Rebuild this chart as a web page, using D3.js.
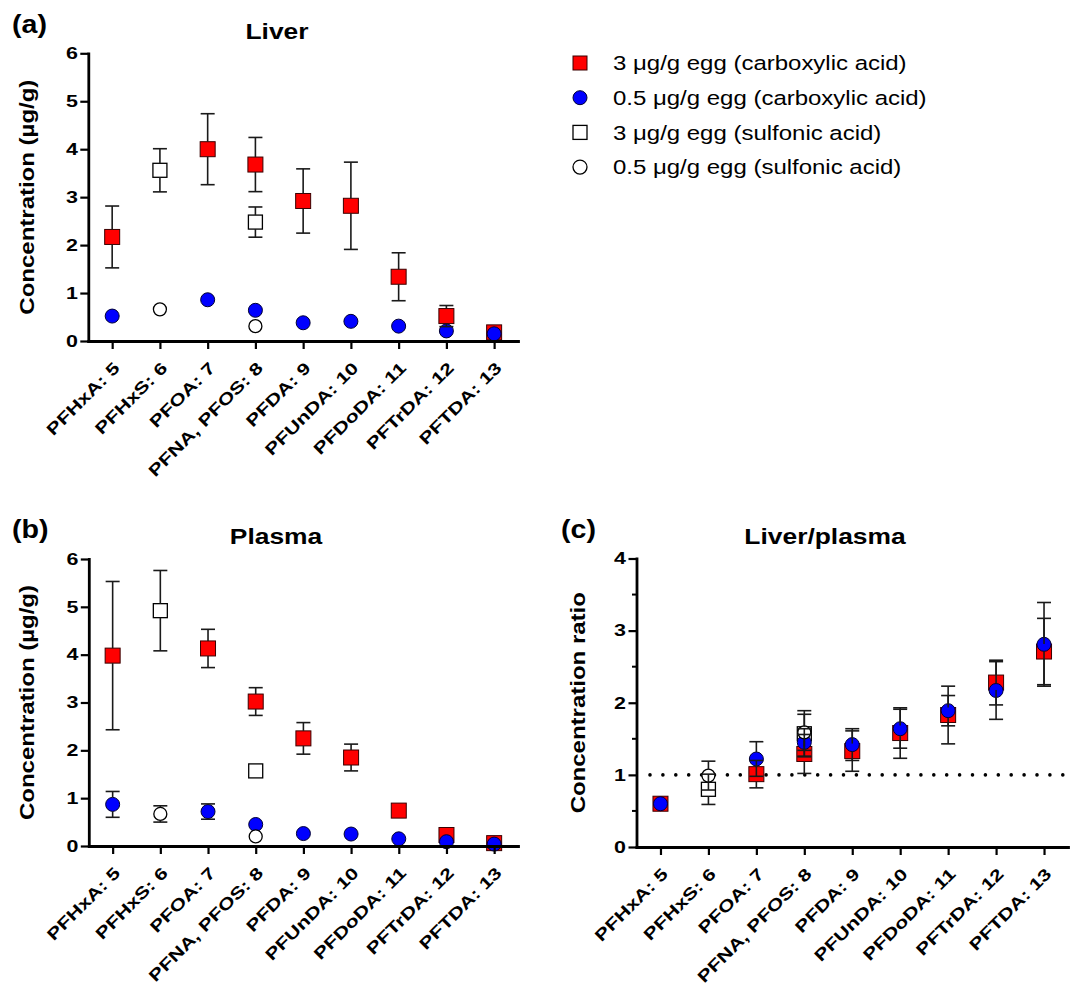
<!DOCTYPE html>
<html>
<head>
<meta charset="utf-8">
<script src="https://cdn.jsdelivr.net/npm/d3@7"></script>
<style>
  body { margin: 0; background: #fff; }
  svg { font-family: "Liberation Sans", Arial, sans-serif; }
  .axis text { font-size: 16.5px; font-weight: bold; fill: #000; }
  .axis path, .axis line { stroke: #000; }
</style>
</head>
<body>
<div id="chart"></div>
<script>
// categories along the x axis (shared by all three panels)
var categories = ["PFHxA: 5", "PFHxS: 6", "PFOA: 7", "PFNA, PFOS: 8", "PFDA: 9",
  "PFUnDA: 10", "PFDoDA: 11", "PFTrDA: 12", "PFTDA: 13"];

var legendLabels = ["3 \u03bcg/g egg (carboxylic acid)", "0.5 \u03bcg/g egg (carboxylic acid)",
  "3 \u03bcg/g egg (sulfonic acid)", "0.5 \u03bcg/g egg (sulfonic acid)"];

// (a) liver, mean and SD per category (null = not measured / bar hidden)
var liverHighCarb   = [2.17, null, 4.00, 3.68, 2.92, 2.82, 1.34, 0.52, 0.18];
var liverHighCarbSd = [0.645, null, 0.74, 0.565, 0.67, 0.91, 0.50, 0.22, null];
var liverLowCarb    = [0.52, null, 0.86, 0.64, 0.38, 0.41, 0.31, 0.21, 0.15];
var liverLowCarbSd  = [null, null, null, null, null, null, null, null, null];
var liverHighSulf   = [null, 3.56, null, 2.48, null, null, null, null, null];
var liverHighSulfSd = [null, 0.45, null, 0.315, null, null, null, null, null];
var liverLowSulf    = [null, 0.66, null, 0.31, null, null, null, null, null];
var liverLowSulfSd  = [null, null, null, null, null, null, null, null, null];

// (b) plasma
var plasmaHighCarb   = [3.98, null, 4.13, 3.02, 2.25, 1.85, 0.74, 0.23, 0.06];
var plasmaHighCarbSd = [1.55, null, 0.40, 0.29, 0.33, 0.28, null, null, null];
var plasmaLowCarb    = [0.87, null, 0.72, 0.45, 0.26, 0.25, 0.15, 0.09, 0.04];
var plasmaLowCarbSd  = [0.27, null, 0.16, null, null, null, null, null, null];
var plasmaHighSulf   = [null, 4.92, null, 1.57, null, null, null, null, null];
var plasmaHighSulfSd = [null, 0.84, null, null, null, null, null, null, null];
var plasmaLowSulf    = [null, 0.67, null, 0.20, null, null, null, null, null];
var plasmaLowSulfSd  = [null, 0.17, null, null, null, null, null, null, null];

// (c) liver/plasma ratio
var ratioHighCarb   = [0.60, null, 1.01, 1.29, 1.33, 1.58, 1.83, 2.28, 2.71];
var ratioHighCarbSd = [null, null, 0.19, 0.27, 0.28, 0.35, 0.40, 0.31, 0.46];
var ratioLowCarb    = [0.60, null, 1.22, 1.45, 1.42, 1.64, 1.89, 2.17, 2.81];
var ratioLowCarbSd  = [null, null, 0.24, 0.19, 0.22, 0.27, 0.21, 0.40, 0.58];
var ratioHighSulf   = [null, 0.80, null, 1.57, null, null, null, null, null];
var ratioHighSulfSd = [null, 0.21, null, 0.32, null, null, null, null, null];
var ratioLowSulf    = [null, 0.99, null, 1.59, null, null, null, null, null];
var ratioLowSulfSd  = [null, 0.20, null, 0.25, null, null, null, null, null];

var liverTicks = [0, 1, 2, 3, 4, 5, 6];
var ratioTicks = [0, 1, 2, 3, 4];
var ratioMinorTicks = [0.5, 1.5, 2.5, 3.5];
var refLine = 1;

// the figure's lettering is wider than Arial, so text gets stretched along its run
var wide = 1.2;
var tickWide = 1.3;

var svg = d3.select("#chart").append("svg")
  .attr("width", 1073)
  .attr("height", 986);

// marker styles for the four series
var styles = [
  { shape: "square", size: 15, fill: "#ff0000", stroke: "#3a0000", sw: 1 },
  { shape: "square", size: 14, fill: "#ffffff", stroke: "#000", sw: 1.3 },
  { shape: "circle", size: 14, fill: "#0000ff", stroke: "#000033", sw: 1 },
  { shape: "circle", size: 13, fill: "#ffffff", stroke: "#000", sw: 1.3 }
];

function drawMarker(g, st, cx, cy) {
  if (st.shape == "square") {
    g.append("rect")
      .attr("x", cx - st.size / 2).attr("y", cy - st.size / 2)
      .attr("width", st.size).attr("height", st.size)
      .attr("fill", st.fill).attr("stroke", st.stroke).attr("stroke-width", st.sw);
  } else {
    g.append("circle")
      .attr("cx", cx).attr("cy", cy).attr("r", st.size / 2)
      .attr("fill", st.fill).attr("stroke", st.stroke).attr("stroke-width", st.sw);
  }
}

function drawPanel(p) {
  var x = d3.scalePoint().domain(categories).range(p.xRange).padding(0.5);
  var y = d3.scaleLinear().domain([0, p.yMax]).range(p.yRange);
  var g = svg.append("g");

  // reference line
  if (p.refLine != null) {
    g.append("line")
      .attr("x1", p.refX[0]).attr("x2", p.refX[1])
      .attr("y1", y(p.refLine)).attr("y2", y(p.refLine))
      .attr("stroke", "#000").attr("stroke-width", 3.6)
      .attr("stroke-linecap", "round")
      .attr("stroke-dasharray", "0 12.9");
  }

  // markers (series order as in legend, red first)
  var order = [0, 1, 2, 3];
  order.forEach(function(s) {
    p.series[s].forEach(function(v, i) {
      if (v == null) return;
      drawMarker(g, styles[s], x(categories[i]), y(v));
    });
  });

  // error bars on top, drawn outside of their own marker
  order.forEach(function(s) {
    var half = styles[s].size / 2;
    p.series[s].forEach(function(v, i) {
      var sd = p.sds[s][i];
      if (v == null || sd == null) return;
      var cx = x(categories[i]), cy = y(v);
      var top = y(v + sd), bot = y(v - sd);
      var eb = g.append("g").attr("stroke", "#1a1a1a").attr("stroke-width", 1.6);
      if (top < cy - half) {
        eb.append("line").attr("x1", cx).attr("x2", cx).attr("y1", cy - half).attr("y2", top);
        eb.append("line").attr("x1", cx - 7).attr("x2", cx + 7).attr("y1", top).attr("y2", top);
      }
      if (bot > cy + half) {
        eb.append("line").attr("x1", cx).attr("x2", cx).attr("y1", cy + half).attr("y2", bot);
        eb.append("line").attr("x1", cx - 7).attr("x2", cx + 7).attr("y1", bot).attr("y2", bot);
      }
    });
  });

  // y axis
  var yAxis = g.append("g")
    .attr("class", "axis")
    .attr("transform", `translate(${p.xRange[0]},0)`)
    .call(d3.axisLeft(y).tickValues(p.ticks).tickFormat(d3.format("d"))
      .tickSize(8).tickSizeOuter(0));
  yAxis.select(".domain").attr("stroke-width", 2.8).attr("stroke-linecap", "square");
  yAxis.selectAll(".tick line").attr("stroke-width", 2.2);
  yAxis.selectAll(".tick text")
    .attr("x", -10.5 / tickWide)
    .attr("transform", `scale(${tickWide},1)`);

  if (p.minorTicks) {
    g.selectAll(".minor")
      .data(p.minorTicks)
      .enter()
      .append("line")
      .attr("x1", p.xRange[0] - 4.5).attr("x2", p.xRange[0])
      .attr("y1", d => y(d)).attr("y2", d => y(d))
      .attr("stroke", "#000").attr("stroke-width", 2);
  }

  // x axis
  var xAxis = g.append("g")
    .attr("class", "axis")
    .attr("transform", `translate(0,${p.yRange[0]})`)
    .call(d3.axisBottom(x).tickSize(8).tickSizeOuter(0));
  xAxis.select(".domain").attr("stroke-width", 2.8).attr("stroke-linecap", "square");
  xAxis.selectAll(".tick line").attr("stroke-width", 2.2);
  xAxis.selectAll(".tick text")
    .attr("x", 0).attr("y", 0).attr("dy", 0)
    .attr("text-anchor", "end")
    .attr("transform", `translate(8,28) rotate(-45) scale(${tickWide},1)`);

  // titles
  svg.append("text")
    .attr("transform", `translate(${p.tagX},${p.tagY}) scale(1.1,1)`)
    .attr("font-size", 26).attr("font-weight", "bold")
    .text(p.tag);
  svg.append("text")
    .attr("transform", `translate(${p.titleX},${p.titleY}) scale(${wide},1)`)
    .attr("text-anchor", "middle")
    .attr("font-size", 22).attr("font-weight", "bold")
    .text(p.title);
  svg.append("text")
    .attr("transform", `translate(${p.yLabelX},${(p.yRange[0] + p.yRange[1]) / 2}) rotate(-90) scale(${wide},1)`)
    .attr("text-anchor", "middle")
    .attr("font-size", 20).attr("font-weight", "bold")
    .text(p.yLabel);
}

drawPanel({
  tag: "(a)", tagX: 12, tagY: 33,
  title: "Liver", titleX: 277, titleY: 39,
  yLabel: "Concentration (\u00b5g/g)", yLabelX: 34,
  xRange: [88.3, 518], yRange: [341, 53.3], yMax: 6, ticks: liverTicks,
  series: [liverHighCarb, liverHighSulf, liverLowCarb, liverLowSulf],
  sds: [liverHighCarbSd, liverHighSulfSd, liverLowCarbSd, liverLowSulfSd]
});

drawPanel({
  tag: "(b)", tagX: 12, tagY: 538,
  title: "Plasma", titleX: 276, titleY: 544,
  yLabel: "Concentration (\u00b5g/g)", yLabelX: 34,
  xRange: [88.8, 518], yRange: [846, 559], yMax: 6, ticks: liverTicks,
  series: [plasmaHighCarb, plasmaHighSulf, plasmaLowCarb, plasmaLowSulf],
  sds: [plasmaHighCarbSd, plasmaHighSulfSd, plasmaLowCarbSd, plasmaLowSulfSd]
});

drawPanel({
  tag: "(c)", tagX: 561, tagY: 538,
  title: "Liver/plasma", titleX: 825, titleY: 544,
  yLabel: "Concentration ratio", yLabelX: 585,
  xRange: [636.5, 1068], yRange: [847, 558.5], yMax: 4,
  ticks: ratioTicks, minorTicks: ratioMinorTicks,
  refLine: refLine, refX: [650, 1064],
  series: [ratioHighCarb, ratioHighSulf, ratioLowCarb, ratioLowSulf],
  sds: [ratioHighCarbSd, ratioHighSulfSd, ratioLowCarbSd, ratioLowSulfSd]
});

// legend
var legendOrder = [0, 2, 1, 3];
var legend = svg.append("g");
legendLabels.forEach(function(label, i) {
  var ly = 63 + i * 34.7;
  var st = styles[legendOrder[i]];
  drawMarker(legend, { shape: st.shape, size: 14, fill: st.fill, stroke: st.stroke, sw: st.sw }, 580, ly);
  legend.append("text")
    .attr("transform", `translate(613,${ly}) scale(1.17,1)`)
    .attr("dy", "0.36em")
    .attr("font-size", 20.5)
    .text(label);
});
</script>
</body>
</html>
